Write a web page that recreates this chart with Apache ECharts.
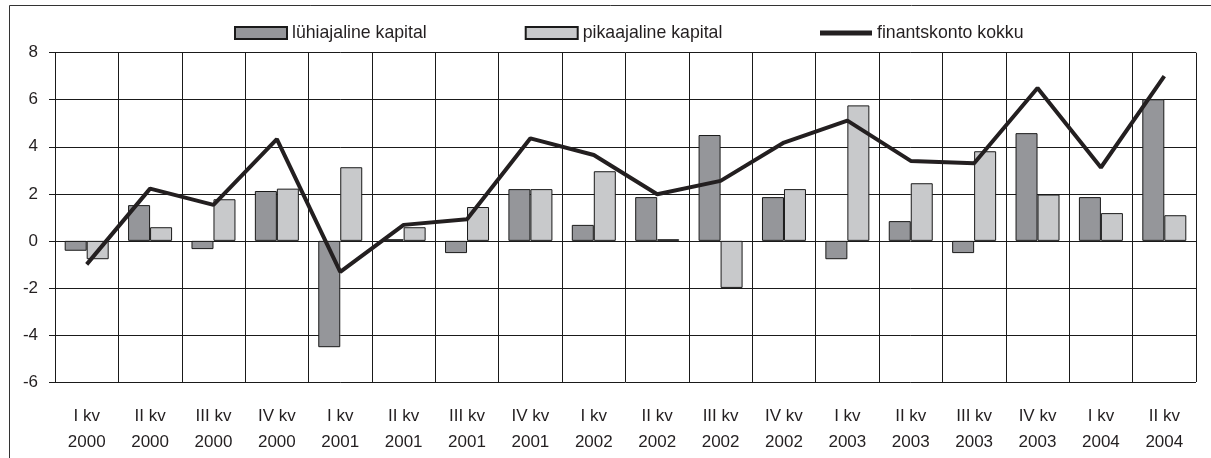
<!DOCTYPE html>
<html lang="et">
<head>
    <meta charset="UTF-8">
    <title>Finantskonto</title>
    <style>
        * { margin: 0; padding: 0; }
        body { background: #fff; }
        #chart-container { width: 1211px; height: 458px; }
    </style>
</head>
<body>
    <div id="chart-container"></div>
    <script src="https://cdn.jsdelivr.net/npm/echarts@6.0.0/dist/echarts.min.js"></script>
    <script>
        // kvartalid
        var categories = [
            'I kv\n2000', 'II kv\n2000', 'III kv\n2000', 'IV kv\n2000',
            'I kv\n2001', 'II kv\n2001', 'III kv\n2001', 'IV kv\n2001',
            'I kv\n2002', 'II kv\n2002', 'III kv\n2002', 'IV kv\n2002',
            'I kv\n2003', 'II kv\n2003', 'III kv\n2003', 'IV kv\n2003',
            'I kv\n2004', 'II kv\n2004'
        ];
        var luhiajaline = [-0.42, 1.52, -0.35, 2.12, -4.52, 0.07, -0.52, 2.2, 0.68, 1.86, 4.5, 1.86, -0.78, 0.84, -0.52, 4.58, 1.86, 6.02];
        var pikaajaline = [-0.78, 0.58, 1.77, 2.22, 3.13, 0.58, 1.44, 2.2, 2.96, 0.07, -2.0, 2.2, 5.76, 2.45, 3.81, 1.97, 1.18, 1.09];
        var finantskonto = [-1.0, 2.22, 1.53, 4.33, -1.32, 0.68, 0.92, 4.36, 3.65, 1.98, 2.55, 4.18, 5.11, 3.4, 3.3, 6.5, 3.12, 7.0];

        var font = '"Liberation Sans", Arial, sans-serif';
        var ink = '#231f20';

        var dom = document.getElementById('chart-container');
        var myChart = echarts.init(dom, null, { renderer: 'canvas' });

        var option = {
            animation: false,
            textStyle: { fontFamily: font },
            graphic: [{
                type: 'rect',
                left: 7, top: 3,
                shape: { width: 1240, height: 500 },
                style: { fill: 'none', stroke: '#333', lineWidth: 1 },
                silent: true
            }],
            legend: [
                {
                    left: 229,
                    top: 19,
                    icon: 'rect',
                    itemWidth: 52,
                    itemHeight: 12,
                    itemGap: 98,
                    textStyle: { fontFamily: font, fontSize: 17.7, color: ink },
                    data: ['lühiajaline kapital', 'pikaajaline kapital']
                },
                {
                    left: 815,
                    top: 19,
                    icon: 'rect',
                    itemWidth: 52,
                    itemHeight: 5,
                    textStyle: { fontFamily: font, fontSize: 17.7, color: ink },
                    data: ['finantskonto kokku']
                }
            ],
            grid: { left: 55, right: 15, top: 52.7, bottom: 76 },
            xAxis: {
                type: 'category',
                data: categories,
                axisLine: { show: false },
                axisTick: { show: false },
                splitLine: { show: true, interval: 0, lineStyle: { color: '#1a1a1a', width: 1 } },
                axisLabel: {
                    interval: 0,
                    margin: 21,
                    fontFamily: font,
                    fontSize: 17,
                    lineHeight: 26,
                    color: ink
                }
            },
            yAxis: {
                type: 'value',
                min: -6,
                max: 8,
                interval: 2,
                axisLine: { show: true, lineStyle: { color: '#1a1a1a' } },
                axisTick: { show: true, length: 6, lineStyle: { color: '#1a1a1a' } },
                splitLine: { lineStyle: { color: '#1a1a1a', width: 1 } },
                axisLabel: { fontFamily: font, fontSize: 17, color: ink, margin: 17 }
            },
            series: [
                {
                    name: 'lühiajaline kapital',
                    type: 'bar',
                    data: luhiajaline,
                    barGap: '0%',
                    barCategoryGap: '30.6%',
                    itemStyle: { color: '#95969a', borderColor: '#1a1a1a', borderWidth: 1 }
                },
                {
                    name: 'pikaajaline kapital',
                    type: 'bar',
                    data: pikaajaline,
                    itemStyle: { color: '#c8c9cb', borderColor: '#1a1a1a', borderWidth: 1 }
                },
                {
                    name: 'finantskonto kokku',
                    type: 'line',
                    data: finantskonto,
                    symbol: 'none',
                    lineStyle: { color: ink, width: 4 },
                    itemStyle: { color: ink },
                    z: 5
                }
            ]
        };

        myChart.setOption(option);
        window.addEventListener('resize', myChart.resize);
    </script>
</body>
</html>
